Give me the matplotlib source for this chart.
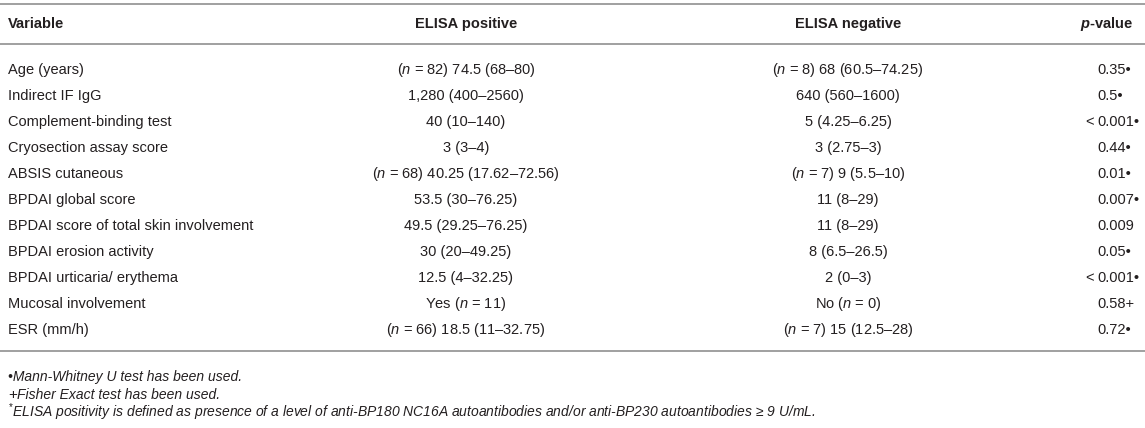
import matplotlib.pyplot as plt

plt.rcParams['font.family'] = ['Liberation Sans', 'DejaVu Sans']
plt.rcParams['mathtext.fontset'] = 'custom'
plt.rcParams['mathtext.rm'] = 'Liberation Sans'
plt.rcParams['mathtext.it'] = 'Liberation Sans:italic'
plt.rcParams['mathtext.bf'] = 'Liberation Sans:bold'
plt.rcParams['mathtext.bfit'] = 'Liberation Sans:bold:italic'

# table data
variables = ['Age (years)', 'Indirect IF IgG', 'Complement-binding test',
             'Cryosection assay score', 'ABSIS cutaneous', 'BPDAI global score',
             'BPDAI score of total skin involvement', 'BPDAI erosion activity',
             'BPDAI urticaria/ erythema', 'Mucosal involvement', 'ESR (mm/h)']
pos_vals = ['($n$ = 82) 74.5 (68–80)', '1,280 (400–2560)', '40 (10–140)', '3 (3–4)',
            '($n$ = 68) 40.25 (17.62–72.56)', '53.5 (30–76.25)', '49.5 (29.25–76.25)',
            '30 (20–49.25)', '12.5 (4–32.25)', 'Yes ($n$ = 11)',
            '($n$ = 66) 18.5 (11–32.75)']
neg_vals = ['($n$ = 8) 68 (60.5–74.25)', '640 (560–1600)', '5 (4.25–6.25)',
            '3 (2.75–3)', '($n$ = 7) 9 (5.5–10)', '11 (8–29)', '11 (8–29)',
            '8 (6.5–26.5)', '2 (0–3)', 'No ($n$ = 0)', '($n$ = 7) 15 (12.5–28)']
p_vals = ['0.35', '0.5', '0.001', '0.44', '0.01', '0.007', '0.009', '0.05',
          '0.001', '0.58', '0.72']
p_less = [False, False, True, False, False, False, False, False, True, False, False]
p_marks = ['•', '•', '•', '•', '•', '•', '', '•', '•', '+', '•']
headers = ['Variable', 'ELISA positive', 'ELISA negative']
notes = ['Mann-Whitney U test has been used.',
         'Fisher Exact test has been used.',
         'ELISA positivity is defined as presence of a level of anti-BP180 NC16A '
         'autoantibodies and/or anti-BP230 autoantibodies \u2265 9 U/mL.']

W, H = 1145, 428
fig = plt.figure(figsize=(W / 100, H / 100), dpi=100)
ax = fig.add_axes([0, 0, 1, 1])
ax.set_xlim(0, W)
ax.set_ylim(H, 0)
ax.axis('off')

fs = 10.5
fn = 10
line_c = '#a0a0a0'
txt_c = '#231f20'
x_var, x_pos, x_neg, x_p = 8, 466, 848, 1097
y_head = 24
y0, dy = 70, 26.0
y_bot = 351

for y in (4, 44, y_bot):
    ax.plot([0, W], [y, y], color=line_c, lw=1.4, solid_capstyle='butt')

ax.text(x_var, y_head, headers[0], fontsize=fs, fontweight='bold', va='center', color=txt_c)
ax.text(x_pos, y_head, headers[1], fontsize=fs, fontweight='bold', va='center', ha='center', color=txt_c)
ax.text(x_neg, y_head, headers[2], fontsize=fs, fontweight='bold', va='center', ha='center', color=txt_c)
ax.text(1133, y_head, r'$\mathbfit{p}$-value', fontsize=fs, fontweight='bold', va='center', ha='right', color=txt_c)

for i, var in enumerate(variables):
    y = y0 + i * dy
    ax.text(x_var, y, var, fontsize=fs, va='center', color=txt_c)
    ax.text(x_pos, y, pos_vals[i], fontsize=fs, va='center', ha='center', color=txt_c)
    ax.text(x_neg, y, neg_vals[i], fontsize=fs, va='center', ha='center', color=txt_c)
    mark = p_marks[i]
    if mark == '•':
        mark = '\u2022'
    ax.text(x_p, y, p_vals[i] + mark, fontsize=fs, va='center', ha='left', color=txt_c)
    if p_less[i]:
        ax.text(x_p - 3, y, '<', fontsize=fs, va='center', ha='right', color=txt_c)

ax.text(x_var, 377, '\u2022' + notes[0], fontsize=fn, style='italic', va='center', color=txt_c)
ax.text(x_var, 395, '+', fontsize=fn + 1, va='center', color=txt_c)
ax.text(x_var + 9, 395, notes[1], fontsize=fn, style='italic', va='center', color=txt_c)
ax.text(x_var, 412, '$^{*}$' + notes[2], fontsize=fn, style='italic', va='center', color=txt_c)

fig.savefig('out.png', dpi=100, facecolor='white')
